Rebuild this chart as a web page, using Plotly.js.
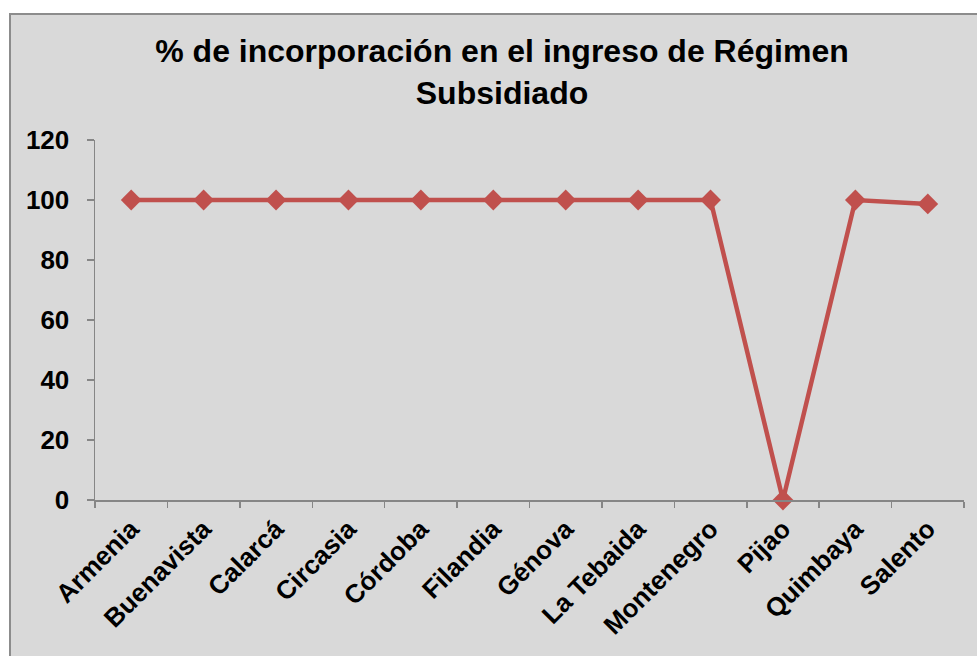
<!DOCTYPE html>
<html>
<head>
<meta charset="utf-8">
<script src="https://cdn.plot.ly/plotly-3.0.1.min.js"></script>
<style>
  html, body { margin: 0; padding: 0; background: #ffffff; }
  #frame { position: absolute; left: 9px; top: 13px; width: 990px; height: 660px;
           background: #D9D9D9; border: 2px solid #8C8C8C; box-sizing: border-box; }
  #chart { position: absolute; left: 0; top: 0; width: 977px; height: 656px; }
</style>
</head>
<body>
<div id="frame"></div>
<div id="chart"></div>
<script>
const municipios = ["Armenia", "Buenavista", "Calarcá", "Circasia", "Córdoba", "Filandia",
                    "Génova", "La Tebaida", "Montenegro", "Pijao", "Quimbaya", "Salento"];
const porcentaje = [100, 100, 100, 100, 100, 100, 100, 100, 100, 0, 100, 98.7];
const yTicks = [0, 20, 40, 60, 80, 100, 120];
const chartTitle = "% de incorporación en el ingreso de Régimen<br>Subsidiado";

const font = "Liberation Sans, Arial, sans-serif";
const axisGray = "#868686";

const trace = {
  type: "scatter",
  mode: "lines+markers",
  x: municipios,
  y: porcentaje,
  line: { color: "#C0504D", width: 4.5 },
  marker: { symbol: "diamond", size: 16, color: "#C0504D" },
  cliponaxis: false,
  hoverinfo: "x+y"
};

const layout = {
  width: 977,
  height: 656,
  paper_bgcolor: "rgba(0,0,0,0)",
  plot_bgcolor: "rgba(0,0,0,0)",
  margin: { l: 95, r: 13, t: 140, b: 156 },
  showlegend: false,
  title: {
    text: chartTitle,
    font: { family: font, size: 32, color: "#000000", weight: "bold" },
    xref: "container", x: 502 / 977, xanchor: "center",
    yref: "container", y: 1 - 62 / 656, yanchor: "middle"
  },
  xaxis: {
    type: "category",
    range: [-0.5, 11.5],
    showline: true, linecolor: axisGray, linewidth: 1.5,
    ticks: "outside", tickson: "boundaries", ticklen: 6, tickcolor: axisGray, tickwidth: 1.5,
    showgrid: false, zeroline: false,
    tickangle: -45,
    ticklabelstandoff: 2,
    tickfont: { family: font, size: 26, color: "#000000", weight: "bold" }
  },
  yaxis: {
    range: [0, 120],
    tickvals: yTicks,
    ticktext: yTicks.map(String),
    showline: true, linecolor: axisGray, linewidth: 1.5,
    ticks: "outside", ticklen: 7, tickcolor: axisGray, tickwidth: 1.5,
    showgrid: false, zeroline: false,
    ticklabelstandoff: 12,
    tickfont: { family: font, size: 26, color: "#000000", weight: "bold" }
  }
};

Plotly.newPlot("chart", [trace], layout, { displayModeBar: false, staticPlot: true });
</script>
</body>
</html>
